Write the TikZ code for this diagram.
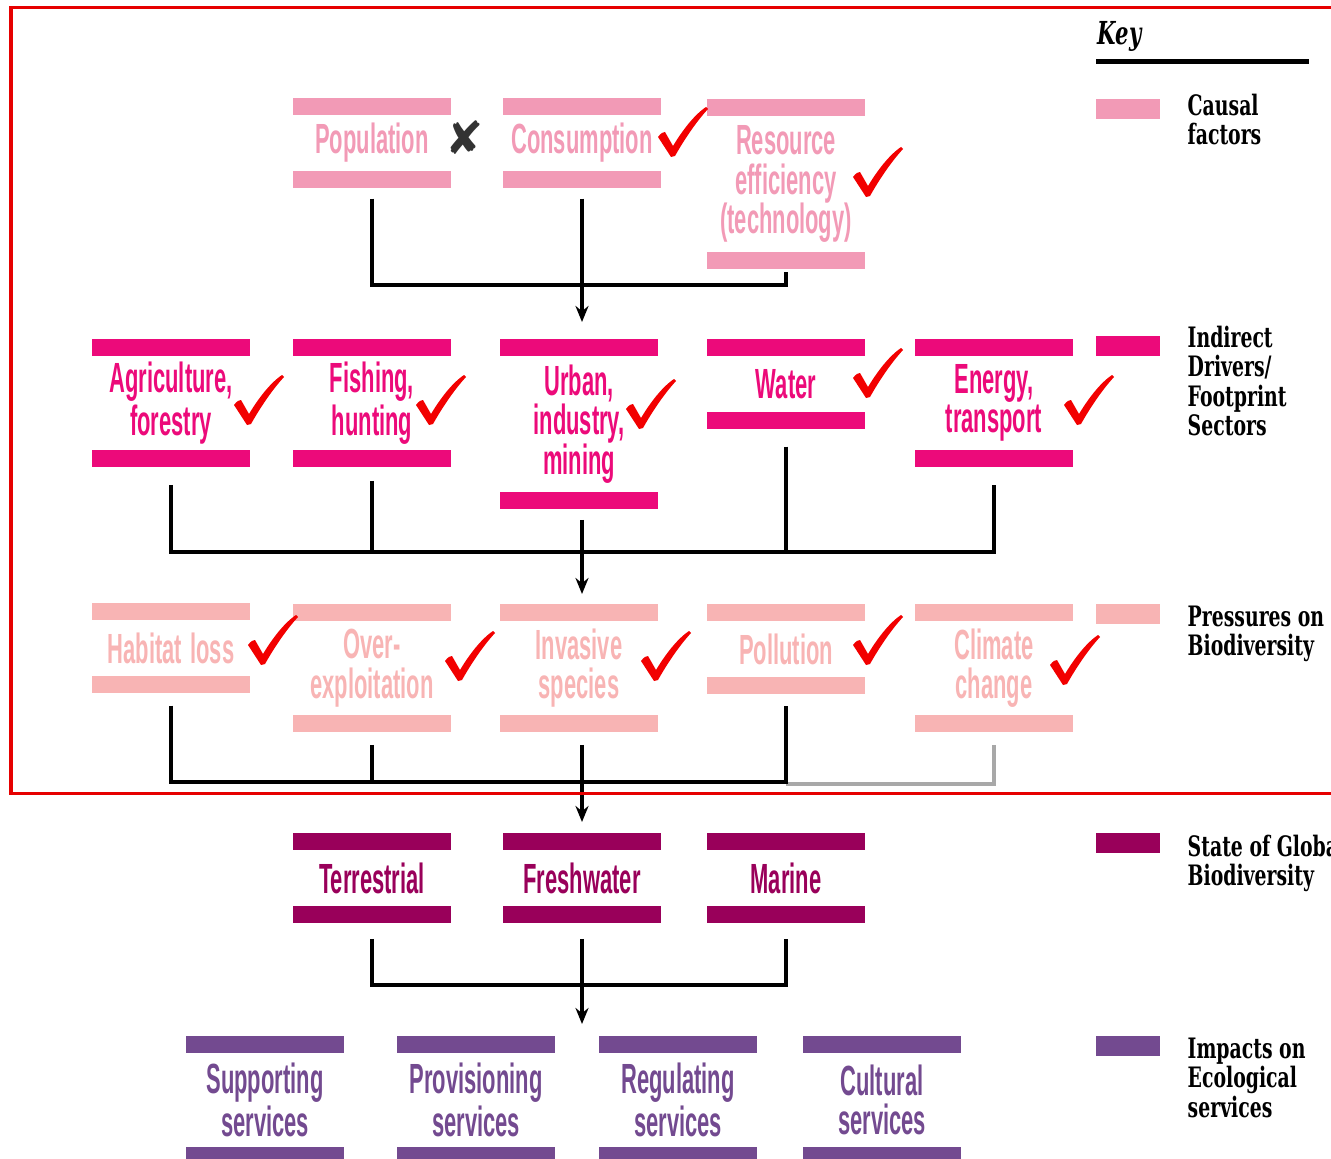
\documentclass[tikz,border=0pt]{standalone}
\usepackage{fontspec}
\usepackage{tikz}
\usetikzlibrary{arrows.meta,positioning}
\newfontfamily\catfont[FakeStretch=0.52]{Liberation Sans}
\newfontfamily\keyfont[FakeStretch=0.67]{DejaVu Serif}
\newfontfamily\symfont{DejaVu Sans}
\definecolor{cCausal}{HTML}{F29AB6}
\definecolor{cDriver}{HTML}{EC0A7A}
\definecolor{cPressure}{HTML}{F8B4B4}
\definecolor{cState}{HTML}{99005A}
\definecolor{cImpact}{HTML}{734A90}
\definecolor{cTick}{HTML}{F20000}
\definecolor{cGrey}{HTML}{A8A8A8}

\begin{document}
\begin{tikzpicture}[x=0.01cm,y=-0.01cm]
\tikzstyle{bar}=[minimum width=1.57cm, minimum height=0.17cm, inner sep=0pt, label distance=0pt]
\tikzstyle{cat}=[text width=1.57cm, align=center, inner sep=0pt, font=\catfont\bfseries\fontsize{12}{11.2}\selectfont, execute at begin node={\spaceskip=0.2em\relax}]
\tikzstyle{causal}=[cat, text=cCausal, label={[bar,fill=cCausal]north:{}}, label={[bar,fill=cCausal]south:{}}]
\tikzstyle{driver}=[cat, text=cDriver, label={[bar,fill=cDriver]north:{}}, label={[bar,fill=cDriver]south:{}}]
\tikzstyle{pressure}=[cat, text=cPressure, label={[bar,fill=cPressure]north:{}}, label={[bar,fill=cPressure]south:{}}]
\tikzstyle{state}=[cat, text=cState, label={[bar,fill=cState]north:{}}, label={[bar,fill=cState]south:{}}]
\tikzstyle{impact}=[cat, text=cImpact, label={[bar,fill=cImpact]north:{}}, label={[bar,fill=cImpact]south:{}}]
\tikzstyle{h1}=[minimum height=0.54cm]
\tikzstyle{h2}=[minimum height=0.92cm]
\tikzstyle{h3}=[minimum height=1.34cm]
\tikzstyle{conn}=[line width=0.04cm]
\tikzstyle{swatch}=[minimum width=0.64cm, minimum height=0.2cm, inner sep=0pt]
\tikzstyle{keytext}=[align=left, inner sep=0pt, anchor=north west, font=\keyfont\bfseries\fontsize{8}{8.4}\selectfont]
\tikzset{tick/.pic={
  \fill[cTick] (-14,-18) .. controls (-11,-22) and (-9,-23) .. (-7,-23) -- (1,-9)
    .. controls (10,-24) and (22,-40) .. (34,-48) -- (36,-46)
    .. controls (24,-33) and (12,-15) .. (3,1) -- (-1,2) -- cycle;}}
\useasboundingbox (0,0) rectangle (1331,1158);

\node[causal,h1] (pop) at (372,143) {Population};
\node[causal,h1] (cons) at (582,143) {Consumption};
\node[causal,h3] (res) at (786,184) {Resource\\efficiency\\(technology)};

\node[driver,h2] (agr) at (171,403) {Agriculture,\\forestry};
\node[driver,h2] (fish) at (372,403) {Fishing,\\hunting};
\node[driver,h3] (urb) at (579,424) {Urban,\\industry,\\mining};
\node[driver,h1] (wat) at (786,384) {Water};
\node[driver,h2] (ene) at (994,403) {Energy,\\transport};

\node[pressure,h1] (hab) at (171,648) {Habitat loss};
\node[pressure,h2] (over) at (372,668) {Over-\\exploitation};
\node[pressure,h2] (inv) at (579,668) {Invasive\\species};
\node[pressure,h1] (pol) at (786,649) {Pollution};
\node[pressure,h2] (cli) at (994,668) {Climate\\change};

\node[state,h1] (ter) at (372,878) {Terrestrial};
\node[state,h1] (fre) at (582,878) {Freshwater};
\node[state,h1] (mar) at (786,878) {Marine};

\node[impact,h2] (sup) at (265,1100) {Supporting\\services};
\node[impact,h2] (pro) at (476,1100) {Provisioning\\services};
\node[impact,h2] (reg) at (678,1100) {Regulating\\services};
\node[impact,h2] (cul) at (882,1100) {Cultural\\services};

\coordinate (bus1) at (582,285);
\coordinate (bus2) at (582,552);
\coordinate (bus3) at (582,782);
\coordinate (bus4) at (582,985);
\coordinate (a1) at (582,322);
\coordinate (a2) at (582,594);
\coordinate (a3) at (582,822);
\coordinate (a4) at (582,1024);

\draw[conn] ([yshift=-0.28cm]pop.south) |- (bus1) -| ([yshift=-0.2cm]res.south);
\draw[conn,-{Stealth[length=0.16cm,width=0.13cm]}] ([yshift=-0.28cm]cons.south) -- (a1);

\draw[conn] ([yshift=-0.35cm]agr.south) |- (bus2) -| ([yshift=-0.35cm]ene.south);
\draw[conn] ([yshift=-0.31cm]fish.south) -- (fish.south |- bus2);
\draw[conn] ([yshift=-0.35cm]wat.south) -- (wat.south |- bus2);
\draw[conn,-{Stealth[length=0.16cm,width=0.13cm]}] ([yshift=-0.28cm]a2 |- urb.south) -- (a2);

\draw[conn,cGrey] ([yshift=-0.3cm]cli.south) |- ([yshift=-0.02cm]pol.south |- bus3);
\draw[conn] ([yshift=-0.3cm]hab.south) |- (bus3) -| ([yshift=-0.29cm]pol.south);
\draw[conn] ([yshift=-0.3cm]over.south) -- (over.south |- bus3);
\draw[conn,-{Stealth[length=0.16cm,width=0.13cm]}] ([yshift=-0.3cm]a3 |- inv.south) -- (a3);

\draw[conn] ([yshift=-0.33cm]ter.south) |- (bus4) -| ([yshift=-0.33cm]mar.south);
\draw[conn,-{Stealth[length=0.16cm,width=0.13cm]}] ([yshift=-0.33cm]fre.south) -- (a4);

\draw[cTick!95!black, line width=0.03cm] (1340,793) -- (11,793) -- (11,8) -- (1340,8);

\node[text=black!80, inner sep=0pt, font=\symfont\fontsize{13}{13}\selectfont] (cross) at (465,138) {✘};
\pic (t1) at (672,155) {tick};
\pic (t2) at (867,195) {tick};
\pic (t3) at (248,423) {tick};
\pic (t4) at (430,423) {tick};
\pic (t5) at (640,427) {tick};
\pic (t6) at (867,396) {tick};
\pic (t7) at (1078,423) {tick};
\pic (t8) at (262,663) {tick};
\pic (t9) at (459,679) {tick};
\pic (t10) at (655,679) {tick};
\pic (t11) at (867,663) {tick};
\pic (t12) at (1064,683) {tick};

\node[inner sep=0pt, anchor=base west, font=\keyfont\bfseries\itshape\fontsize{9}{9}\selectfont] (key) at (1097,45) {Key};
\draw[line width=0.05cm] (1096,62) -- (1309,62);
\node[swatch, fill=cCausal] (k1) at (1128,109) {};
\node[swatch, fill=cDriver] (k2) at (1128,346) {};
\node[swatch, fill=cPressure] (k3) at (1128,614) {};
\node[swatch, fill=cState] (k4) at (1128,843) {};
\node[swatch, fill=cImpact] (k5) at (1128,1046) {};
\node[keytext] (kt1) at (1187,93) {Causal\\factors};
\node[keytext] (kt2) at (1187,325) {Indirect\\Drivers/\\Footprint\\Sectors};
\node[keytext] (kt3) at (1187,605) {Pressures on\\Biodiversity};
\node[keytext] (kt4) at (1187,834) {State of Global\\Biodiversity};
\node[keytext] (kt5) at (1187,1037) {Impacts on\\Ecological\\services};
\end{tikzpicture}
\end{document}
